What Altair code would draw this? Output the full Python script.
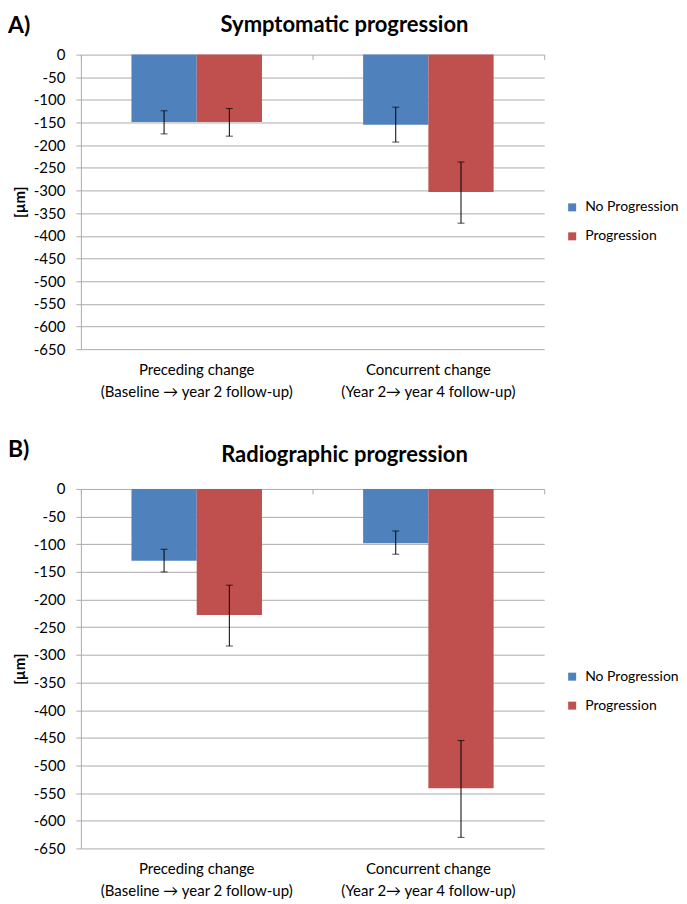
import altair as alt
import pandas as pd

# ---- data ----
categories = ["Preceding change|(Baseline \u2192 year 2 follow-up)",
              "Concurrent change|(Year 2\u2192 year 4 follow-up)"]
groups = ["No Progression", "Progression"]
colors = ["#4F81BD", "#C0504D"]
y_ticks = [0, -50, -100, -150, -200, -250, -300, -350, -400, -450, -500, -550, -600, -650]

# Panel A: symptomatic progression  (per category: [no progression, progression])
a_mean = [[-149, -149], [-155, -303]]
a_low = [[-175, -180], [-193, -372]]
a_high = [[-124, -119], [-116, -237]]

# Panel B: radiographic progression
b_mean = [[-130, -228], [-98, -541]]
b_low = [[-150, -284], [-118, -630]]
b_high = [[-109, -174], [-76, -455]]

FONT = "Lato"
GRID = "#ababab"
W = 464


def make_df(mean, low, high):
    rows = []
    for i, c in enumerate(categories):
        for j, g in enumerate(groups):
            rows.append({"cat": c, "grp": g, "val": mean[i][j],
                         "lo": low[i][j], "hi": high[i][j]})
    return pd.DataFrame(rows)


def panel(title, letter, mean, low, high, height, legend_y, letter_y, title_y):
    df = make_df(mean, low, high)
    base = alt.Chart(df)
    xscale = alt.Scale(domain=categories, paddingInner=0, paddingOuter=0)
    x_bottom = alt.X("cat:N", sort=categories, scale=xscale,
                     axis=alt.Axis(title=None, orient="bottom",
                                   labelExpr="split(datum.label, '|')",
                                   labelAngle=0, domain=False, ticks=False,
                                   labelPadding=13, labelFontSize=15,
                                   labelLineHeight=22, labelFont=FONT,
                                   labelColor="#000", labelLimit=400))
    x_top = alt.X("cat:N", sort=categories, scale=xscale,
                  axis=alt.Axis(title=None, orient="bottom", offset=-height,
                                labels=False, domain=False, ticks=True,
                                tickBand="extent", tickSize=5,
                                tickColor=GRID, grid=False))
    x_none = alt.X("cat:N", sort=categories, scale=xscale, axis=None)
    xoff = alt.XOffset("grp:N", sort=groups,
                       scale=alt.Scale(domain=groups, paddingInner=0,
                                       paddingOuter=0.775))
    yscale = alt.Scale(domain=[-650, 0], nice=False, zero=False)
    yaxis = alt.Axis(values=y_ticks, title="[\u00b5m]",
                     labelExpr="datum.value + ''",
                     labelOverlap=False, tickCount=14,
                     grid=True, gridColor=GRID, domainColor=GRID,
                     tickColor=GRID, tickSize=5, labelPadding=11,
                     labelFontSize=15, labelFont=FONT,
                     labelColor="#000", titleFont=FONT,
                     titleFontSize=15, titleFontWeight="bold",
                     titleColor="#000", titlePadding=6)
    y = alt.Y("val:Q", scale=yscale, axis=yaxis)
    color = alt.Color("grp:N", sort=groups,
                      scale=alt.Scale(domain=groups, range=colors),
                      legend=alt.Legend(title=None, orient="none",
                                        legendX=485, legendY=legend_y,
                                        symbolType="square", symbolSize=64,
                                        symbolStrokeWidth=0, labelOffset=6,
                                        labelFontSize=14, labelFont=FONT,
                                        labelColor="#000", rowPadding=15,
                                        padding=0))
    bars = base.mark_bar().encode(x=x_bottom, xOffset=xoff, y=y, color=color)
    rules = base.mark_rule(color="#000", strokeWidth=1).encode(
        x=x_top, xOffset=xoff,
        y=alt.Y("lo:Q", scale=yscale, axis=yaxis), y2="hi:Q")
    cap_lo = base.mark_tick(color="#000", size=7, thickness=1).encode(
        x=x_none, xOffset=xoff, y=alt.Y("lo:Q", scale=yscale, axis=yaxis))
    cap_hi = base.mark_tick(color="#000", size=7, thickness=1).encode(
        x=x_none, xOffset=xoff, y=alt.Y("hi:Q", scale=yscale, axis=yaxis))
    heads = alt.Chart(pd.DataFrame({"t": [letter, title],
                                    "kind": ["letter", "title"]}))
    lab = heads.transform_filter("datum.kind == 'letter'").mark_text(
        align="left", baseline="middle", font=FONT, fontSize=23,
        fontWeight="bold", color="#000").encode(
        x=alt.value(-73), y=alt.value(letter_y), text="t:N")
    ttl = heads.transform_filter("datum.kind == 'title'").mark_text(
        align="center", baseline="middle", font=FONT, fontSize=22,
        fontWeight="bold", color="#000").encode(
        x=alt.value(W / 2 + 32), y=alt.value(title_y), text="t:N")
    return alt.layer(bars, rules, cap_lo, cap_hi, lab, ttl).resolve_axis(
        x="independent").properties(width=W, height=height)


top = panel("Symptomatic progression", "A)", a_mean, a_low, a_high,
            295, 146, -29, -30)
bottom = panel("Radiographic progression", "B)", b_mean, b_low, b_high,
               360, 181, -39, -34)

chart = alt.vconcat(top, bottom, spacing=40).resolve_scale(
    color="independent").resolve_legend(color="independent").configure_view(
    stroke=None).properties(
    padding={"left": 0, "top": 5, "right": 0, "bottom": 0})

chart.save("out.html", embed_options={"renderer": "svg", "actions": False})
